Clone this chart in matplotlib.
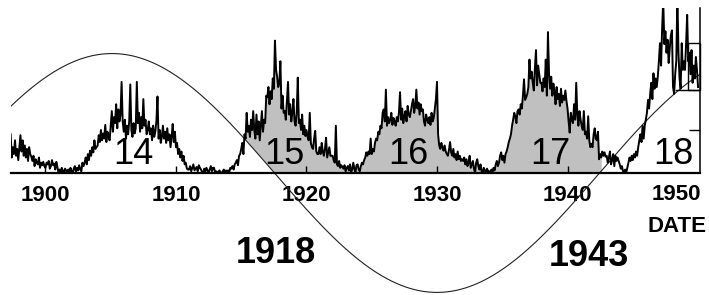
import numpy as np
import matplotlib
matplotlib.use("Agg")
import matplotlib.pyplot as plt
from matplotlib.patches import Rectangle

# monthly sunspot numbers, starting May 1897
start = 1897 + 4 / 12
cycle13_tail = [45, 18, 30, 22, 38, 20, 28, 15,
                30, 44, 25, 38, 20, 32, 18, 28, 14, 30, 22, 19,
                14, 20, 8, 16, 12, 10, 18, 6, 12, 9, 13, 8,
                6, 12, 10, 14, 5, 8, 15, 9, 11, 4, 13, 7,
                0, 4, 1, 6, 2, 0, 5, 3, 1, 4, 0, 6]
cycle14 = [2, 0, 5, 8, 1, 6, 3, 9, 4, 2, 12, 8,
           12, 18, 10, 22, 15, 26, 20, 30, 24, 38, 28, 30,
           32, 44, 36, 50, 38, 46, 40, 56, 36, 48, 42, 38,
           55, 72, 48, 65, 58, 80, 52, 74, 60, 68, 106, 60,
           48, 62, 40, 55, 45, 60, 103, 50, 42, 58, 46, 52,
           106, 58, 70, 48, 65, 52, 86, 55, 62, 45, 50, 60,
           45, 52, 38, 55, 42, 48, 60, 89, 40, 50, 35, 42,
           55, 40, 48, 35, 52, 38, 45, 30, 42, 57, 36, 48,
           30, 35, 22, 28, 18, 25, 14, 20, 10, 12, 5, 4,
           4, 8, 2, 6, 10, 3, 5, 7, 2, 9, 6, 4,
           1, 0, 5, 2, 6, 3, 0, 4, 8, 2, 6, 6,
           0, 2, 0, 1, 3, 0, 0, 2, 4, 0, 3, 2]
cycle15 = [3, 1, 6, 5, 8, 4, 10, 12, 15, 9, 20, 22,
           28, 35, 22, 45, 40, 70, 48, 55, 42, 62, 50, 72,
           50, 40, 68, 45, 60, 38, 55, 72, 48, 62, 58, 90,
           88, 100, 80, 95, 86, 110, 98, 154, 120, 112, 100, 104,
           130, 75, 90, 70, 72, 62, 85, 106, 68, 80, 60, 70,
           86, 60, 55, 70, 111, 58, 62, 50, 68, 45, 55, 43,
           50, 42, 38, 70, 35, 30, 28, 40, 49, 25, 22, 22,
           30, 22, 35, 25, 20, 28, 41, 18, 24, 30, 20, 20,
           20, 15, 12, 55, 10, 8, 14, 6, 9, 7, 5, 9,
           2, 6, 8, 3, 10, 1, 4, 12, 5, 0, 9, 10]
cycle16 = [4, 2, 8, 12, 10, 15, 18, 24, 20, 25, 22, 40,
           22, 28, 25, 35, 40, 38, 48, 45, 55, 52, 70, 74,
           60, 97, 55, 65, 58, 62, 70, 56, 64, 60, 55, 65,
           60, 70, 94, 62, 75, 58, 66, 72, 60, 78, 68, 65,
           72, 80, 86, 70, 78, 97, 75, 82, 68, 80, 72, 74,
           60, 55, 68, 62, 58, 65, 56, 70, 60, 64, 75, 86,
           106, 45, 32, 28, 35, 30, 26, 32, 25, 22, 20, 27,
           36, 24, 20, 28, 18, 22, 15, 25, 16, 20, 14, 16,
           14, 18, 10, 16, 8, 12, 20, 6, 10, 14, 5, 0,
           12, 16, 8, 4, 10, 2, 0, 6, 3, 0, 5, 2]
cycle17 = [2, 0, 4, 1, 6, 3, 10, 14, 8, 12, 20, 24,
           15, 20, 12, 22, 25, 30, 36, 40, 45, 55, 62, 70,
           66, 58, 72, 74, 68, 80, 75, 90, 109, 85, 88, 92,
           100, 132, 110, 118, 105, 96, 122, 143, 102, 125, 115, 105,
           105, 95, 110, 100, 132, 90, 164, 115, 98, 112, 90, 104,
           95, 80, 100, 86, 92, 78, 98, 82, 90, 85, 96, 84,
           75, 60, 47, 70, 62, 58, 80, 62, 105, 68, 55, 72,
           62, 55, 50, 72, 45, 48, 40, 66, 38, 30, 34, 30,
           45, 52, 40, 38, 48, 16, 22, 18, 25, 20, 24, 19,
           20, 12, 18, 25, 10, 15, 22, 8, 20, 14, 18, 14,
           10, 5, 8, 2, 0, 4, 1, 6, 12, 18, 14, 20]
cycle18 = [15, 22, 18, 25, 20, 30, 38, 45, 36, 55, 40, 55,
           62, 70, 85, 75, 92, 105, 86, 116, 98, 110, 100, 112,
           130, 151, 125, 169, 201, 150, 165, 140, 155, 128, 145, 160,
           166, 100, 92, 115, 130, 205, 140, 110, 98, 151, 120, 130,
           120, 150, 184, 130, 140, 115, 143, 105, 125, 110, 135, 120,
           100]

# sine curve drawn over the data (amplitude, period, year of the crest)
sine_amp = 139
sine_period = 49.8
sine_peak = 1905.1

tick_years = [1900, 1910, 1920, 1930, 1940]
cycle_names = ["14", "15", "16", "17", "18"]
cycle_x = [1906.7, 1918.27, 1927.78, 1938.66, 1948.08]

ssn = np.array(cycle13_tail + cycle14 + cycle15 + cycle16 + cycle17 + cycle18, dtype=float)
t = start + np.arange(len(ssn)) / 12
wave = sine_amp * np.cos(2 * np.pi * (t - sine_peak) / sine_period)

x0, x1 = 1897.36, 1950.15
ytop = 192
fig = plt.figure(figsize=(7.09, 2.95), dpi=100)
ax = fig.add_axes([11 / 709, 0, 689 / 709, 287 / 295])
ax.set_xlim(x0, x1)
ax.set_ylim(-142, ytop)

# grey part of cycles 15-17 that rises above the sine
ax.fill_between(t, ssn, np.maximum(wave, 0),
                where=(ssn > wave) & (t > 1912) & (t < 1942.6),
                interpolate=True, color='#c0c0c0', lw=0, zorder=1)
ax.plot(t, ssn, color='black', lw=1.4, zorder=3)

ts = np.linspace(x0, x1, 600)
ax.plot(ts, sine_amp * np.cos(2 * np.pi * (ts - sine_peak) / sine_period),
        color='#222222', lw=0.8, zorder=2)

for s in ['left', 'top']:
    ax.spines[s].set_visible(False)
ax.spines['bottom'].set_position(('data', 0))
ax.spines['bottom'].set_linewidth(1.6)
ax.spines['right'].set_bounds(0, ytop)
ax.spines['right'].set_linewidth(1.1)

ax.yaxis.tick_right()
ax.set_yticks([50])
ax.tick_params(axis='y', direction='in', length=8, width=1, labelright=False)

narrow = ['Liberation Sans Narrow', 'Liberation Sans']
ax.set_xticks(tick_years)
ax.set_xticklabels([str(y) for y in tick_years], fontfamily=narrow,
                   fontweight='bold', fontsize=16)
ax.tick_params(axis='x', direction='in', length=5, width=1, pad=9)

ax.text(1948.31, -25, "1950", family=narrow, weight='bold', fontsize=16,
        ha='center', va='center', clip_on=False)
ax.text(1948.4, -62, "DATE", family=narrow, weight='bold', fontsize=16,
        ha='center', va='center', clip_on=False)

for name, cx in zip(cycle_names, cycle_x):
    ax.text(cx, 21.5, name, family='Liberation Sans', fontsize=26,
            ha='center', va='center', zorder=4)

ax.text(1917.66, -94, "1918", family='Liberation Sans', weight='bold',
        fontsize=26, ha='center', va='center')
ax.text(1941.6, -97, "1943", family='Liberation Sans', weight='bold',
        fontsize=26, ha='center', va='center')

# small box at the upper right corner of the frame
ax.add_patch(Rectangle((1949.2, 96.6), x1 - 1949.2, 54.4, fill=False,
                       lw=1, ec='black', clip_on=False, zorder=4))
ax.plot([1948.3, x1], [96.6, 96.6], color='black', lw=1, zorder=4)

fig.savefig("out.png", dpi=100)
